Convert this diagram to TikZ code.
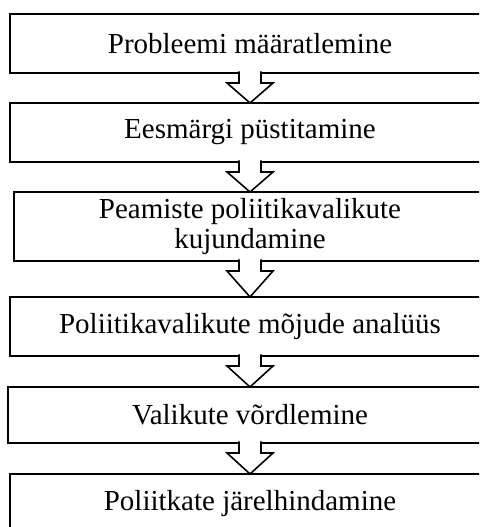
\documentclass[tikz,border=0pt]{standalone}
\usepackage{fontspec}
\setmainfont{Liberation Serif}
\usetikzlibrary{positioning,calc}

\newcommand{\passon}[2]{%
  \filldraw[passarrow] ($(#1.south)+(-11,1.5)$) -- ++(0,-11.5) -- ++(-12,0)
    -- (#2.north) -- ($(#1.south)+(23,-10)$) -- ++(-12,0) -- ++(0,11.5);
}

\begin{document}
\begin{tikzpicture}[
  x=1pt, y=1pt,
  stage/.style={draw=black, line width=2.4pt, fill=white, outer sep=0pt,
    minimum width=480pt, minimum height=59pt, align=center,
    font=\fontsize{29}{30}\selectfont},
  passarrow/.style={draw=black, fill=white, line width=1.6pt, line join=miter}
]
  \clip (0,0) rectangle (479,527);

  \node[stage] (define) at (250,483.5) {Probleemi määratlemine};
  \node[stage, below=30pt of define] (goal) {Eesmärgi püstitamine};
  \node[stage, minimum width=472pt, minimum height=69pt, below=30pt of goal] (options)
    {Peamiste poliitikavalikute\\kujundamine};
  \node[stage, below=36pt of options] (impact) {Poliitikavalikute mõjude analüüs};
  \node[stage, minimum width=484pt, minimum height=56pt, below=31pt of impact] (compare)
    {Valikute võrdlemine};
  \node[stage, below=31pt of compare] (review) {Poliitkate järelhindamine};

  \passon{define}{goal}
  \passon{goal}{options}
  \passon{options}{impact}
  \passon{impact}{compare}
  \passon{compare}{review}
\end{tikzpicture}
\end{document}
